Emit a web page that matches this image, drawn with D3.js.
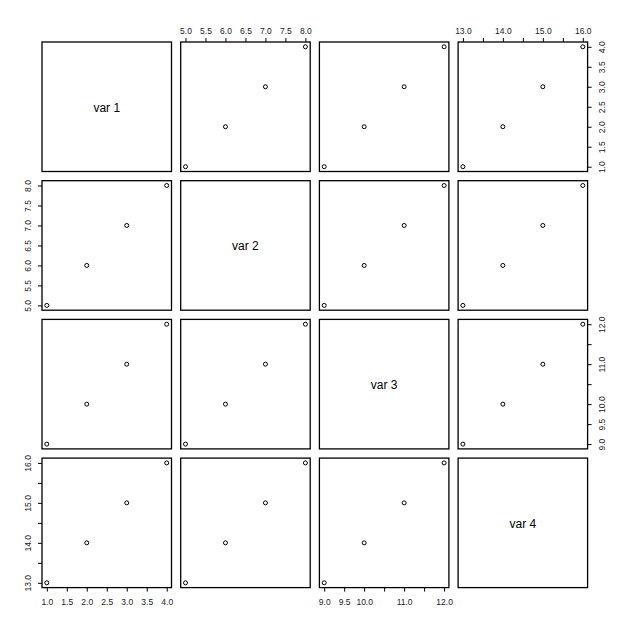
<!DOCTYPE html>
<html><head><meta charset="utf-8">
<script src="https://cdn.jsdelivr.net/npm/d3@7"></script>
<style>body{margin:0;background:#fff}svg{display:block}</style>
</head><body>
<script>
const varNames = ["var 1", "var 2", "var 3", "var 4"];
const var1 = [1, 2, 3, 4];
const var2 = [5, 6, 7, 8];
const var3 = [9, 10, 11, 12];
const var4 = [13, 14, 15, 16];
const ticks1 = [1.0, 1.5, 2.0, 2.5, 3.0, 3.5, 4.0];
const ticks2 = [5.0, 5.5, 6.0, 6.5, 7.0, 7.5, 8.0];
const ticks3 = [9.0, 9.5, 10.0, 10.5, 11.0, 11.5, 12.0];
const ticks4 = [13.0, 13.5, 14.0, 14.5, 15.0, 15.5, 16.0];
const labels1 = ["1.0", "1.5", "2.0", "2.5", "3.0", "3.5", "4.0"];
const labels2 = ["5.0", "5.5", "6.0", "6.5", "7.0", "7.5", "8.0"];
const labels3 = ["9.0", "9.5", "10.0", "", "11.0", "", "12.0"];
const labels4 = ["13.0", "", "14.0", "", "15.0", "", "16.0"];

const vars = [var1, var2, var3, var4];
const ticks = [ticks1, ticks2, ticks3, ticks4];
const labels = [labels1, labels2, labels3, labels4];

const W = 630, H = 630;
const x0 = 42, step = 138.7, size = 129.5;
const svg = d3.select("body").append("svg").attr("width", W).attr("height", H);
const textCol = "#222";
const font = "Liberation Sans, Arial, sans-serif";

function scaleFor(v, range) {
  const [mn, mx] = d3.extent(v);
  const pad = (mx - mn) * 0.04;
  return d3.scaleLinear().domain([mn - pad, mx + pad]).range(range);
}

for (let r = 0; r < 4; r++) {
  for (let c = 0; c < 4; c++) {
    const px = x0 + c * step, py = x0 + r * step;
    const g = svg.append("g");
    const xs = scaleFor(vars[c], [px, px + size]);
    const ys = scaleFor(vars[r], [py + size, py]);
    if (r === c) {
      g.append("text").attr("x", px + size / 2).attr("y", py + size / 2 + 5)
        .attr("text-anchor", "middle").attr("font-family", font).attr("font-size", 12)
        .attr("fill", "#000").text(varNames[r]);
    } else {
      g.selectAll("circle").data(vars[c].map((d, i) => [d, vars[r][i]])).enter()
        .append("circle").attr("cx", d => xs(d[0])).attr("cy", d => ys(d[1]))
        .attr("r", 2).attr("fill", "none").attr("stroke", "#000").attr("stroke-width", 1);
    }
    g.append("rect").attr("x", px).attr("y", py).attr("width", size).attr("height", size)
      .attr("fill", "none").attr("stroke", "#000").attr("stroke-width", 1.3);

    const fmt = (arr) => (d, i) => arr[i];
    if (r === 0 && c % 2 === 1) {
      const ax = d3.axisTop(xs).tickValues(ticks[c]).tickFormat(fmt(labels[c])).tickSize(4).tickPadding(4);
      styleAxis(g.append("g").attr("transform", `translate(0,${py})`).call(ax));
    }
    if (r === 3 && c % 2 === 0) {
      const ax = d3.axisBottom(xs).tickValues(ticks[c]).tickFormat(fmt(labels[c])).tickSize(4).tickPadding(7);
      styleAxis(g.append("g").attr("transform", `translate(0,${py + size})`).call(ax));
    }
    if (c === 0 && r % 2 === 1) {
      const ax = d3.axisLeft(ys).tickValues(ticks[r]).tickFormat(fmt(labels[r])).tickSize(4).tickPadding(3);
      const a = g.append("g").attr("transform", `translate(${px},0)`).call(ax);
      styleAxis(a);
      a.selectAll(".tick text").attr("transform", "rotate(-90)").attr("text-anchor", "middle")
        .attr("x", 0).attr("y", -11).attr("dy", "0");
    }
    if (c === 3 && r % 2 === 0) {
      const ax = d3.axisRight(ys).tickValues(ticks[r]).tickFormat(fmt(labels[r])).tickSize(4).tickPadding(3);
      const a = g.append("g").attr("transform", `translate(${px + size},0)`).call(ax);
      styleAxis(a);
      a.selectAll(".tick text").attr("transform", "rotate(-90)").attr("text-anchor", "middle")
        .attr("x", 0).attr("y", 17).attr("dy", "0");
    }
  }
}

function styleAxis(a) {
  a.select(".domain").remove();
  a.selectAll(".tick line").attr("stroke", "#000").attr("stroke-width", 1);
  a.selectAll(".tick text").attr("font-family", font).attr("font-size", 8.5).attr("fill", textCol);
}
</script>
</body></html>
